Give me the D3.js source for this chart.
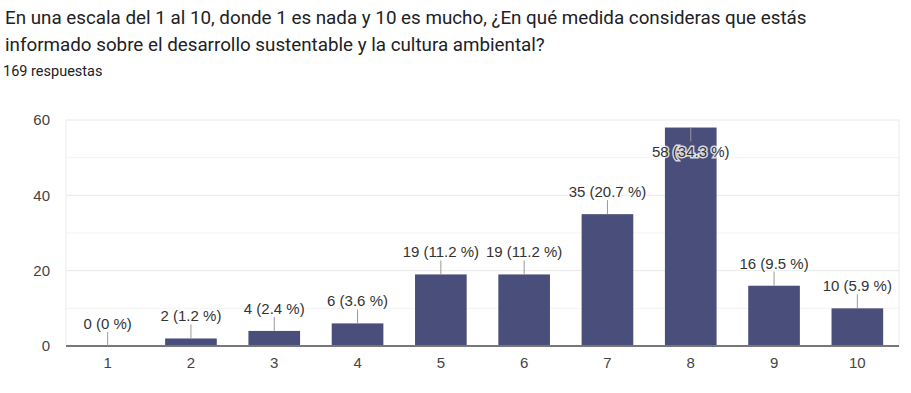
<!DOCTYPE html>
<html>
<head>
<meta charset="utf-8">
<script src="https://d3js.org/d3.v7.min.js"></script>
<style>
  body { margin: 0; background: #fff; }
  svg { display: block; }
</style>
</head>
<body>
<svg></svg>
<script>
const width = 911;
const height = 393;

const titleLines = [
  "En una escala del 1 al 10, donde 1 es nada y 10 es mucho, ¿En qué medida consideras que estás",
  "informado sobre el desarrollo sustentable y la cultura ambiental?"
];
const subtitle = "169 respuestas";
const categories = ["1", "2", "3", "4", "5", "6", "7", "8", "9", "10"];
const counts = [0, 2, 4, 6, 19, 19, 35, 58, 16, 10];
const percents = ["0", "1.2", "2.4", "3.6", "11.2", "11.2", "20.7", "34.3", "9.5", "5.9"];
const yTicks = [0, 20, 40, 60];
const yMinor = [10, 30, 50];

const plot = { left: 66, right: 899, top: 120, bottom: 346 };
const labelFont = 'Arial, "Liberation Sans", sans-serif';

const svg = d3.select('svg')
  .attr('width', width)
  .attr('height', height);

// title
svg.append('g')
  .selectAll('text')
  .data(titleLines)
  .enter().append('text')
  .attr('x', 5)
  .attr('y', (d, i) => 24 + i * 26.7)
  .style('font-family', 'Roboto, sans-serif')
  .style('font-size', '18.8px')
  .style('fill', '#202124')
  .text(d => d);

svg.append('text')
  .attr('x', 3)
  .attr('y', 76)
  .style('font-family', 'Roboto, sans-serif')
  .style('font-size', '14.5px')
  .style('fill', '#202124')
  .text(subtitle);

const x = d3.scaleBand()
  .domain(categories)
  .range([plot.left, plot.right])
  .paddingInner(0.38)
  .paddingOuter(0.19);

const y = d3.scaleLinear()
  .domain([0, 60])
  .range([plot.bottom, plot.top]);

// grid
svg.append('g')
  .selectAll('line')
  .data(yMinor)
  .enter().append('line')
  .attr('x1', plot.left).attr('x2', plot.right)
  .attr('y1', d => y(d)).attr('y2', d => y(d))
  .style('stroke', '#f3f3f3');

svg.append('g')
  .selectAll('line')
  .data(yTicks.filter(d => d > 0))
  .enter().append('line')
  .attr('x1', plot.left).attr('x2', plot.right)
  .attr('y1', d => y(d)).attr('y2', d => y(d))
  .style('stroke', '#e8e8e8');

svg.append('g')
  .selectAll('line')
  .data([plot.left, plot.right])
  .enter().append('line')
  .attr('x1', d => d).attr('x2', d => d)
  .attr('y1', plot.top).attr('y2', plot.bottom)
  .style('stroke', '#ececec');

// y axis labels
const yAxis = svg.append('g')
  .attr('transform', `translate(${plot.left - 16},0)`)
  .call(d3.axisLeft(y).tickValues(yTicks).tickSize(0).tickPadding(0));
yAxis.select('.domain').remove();
yAxis.selectAll('text')
  .style('font-family', labelFont)
  .style('font-size', '15px')
  .style('fill', '#444');

// x axis labels
const xAxis = svg.append('g')
  .attr('transform', `translate(0,${plot.bottom})`)
  .call(d3.axisBottom(x).tickSize(0).tickPadding(11));
xAxis.select('.domain').remove();
xAxis.selectAll('text')
  .style('font-family', labelFont)
  .style('font-size', '15px')
  .style('fill', '#444');

// bars
svg.append('g')
  .selectAll('rect')
  .data(counts)
  .enter().append('rect')
  .attr('x', (d, i) => x(categories[i]))
  .attr('y', d => y(d))
  .attr('width', x.bandwidth())
  .attr('height', d => y(0) - y(d))
  .style('fill', '#4a4e7a');

// baseline
svg.append('line')
  .attr('x1', plot.left).attr('x2', plot.right)
  .attr('y1', y(0)).attr('y2', y(0))
  .style('stroke', '#777')
  .style('stroke-width', 2);

// annotations
const stem = 14;
const ann = svg.append('g');
counts.forEach((d, i) => {
  const cx = x(categories[i]) + x.bandwidth() / 2;
  const top = y(d);
  const inside = top - stem - 16 < plot.top;
  const y2 = inside ? top + stem : top - stem;
  ann.append('line')
    .attr('x1', cx).attr('x2', cx)
    .attr('y1', top).attr('y2', y2)
    .style('stroke', '#999');
  ann.append('text')
    .attr('x', cx)
    .attr('y', inside ? top + 29 : top - 17)
    .attr('text-anchor', 'middle')
    .style('font-family', labelFont)
    .style('font-size', '15px')
    .style('fill', '#333')
    .style('stroke', '#fff')
    .style('stroke-width', 3)
    .style('stroke-opacity', 0.8)
    .style('paint-order', 'stroke')
    .text(`${d} (${percents[i]} %)`);
});
</script>
</body>
</html>
